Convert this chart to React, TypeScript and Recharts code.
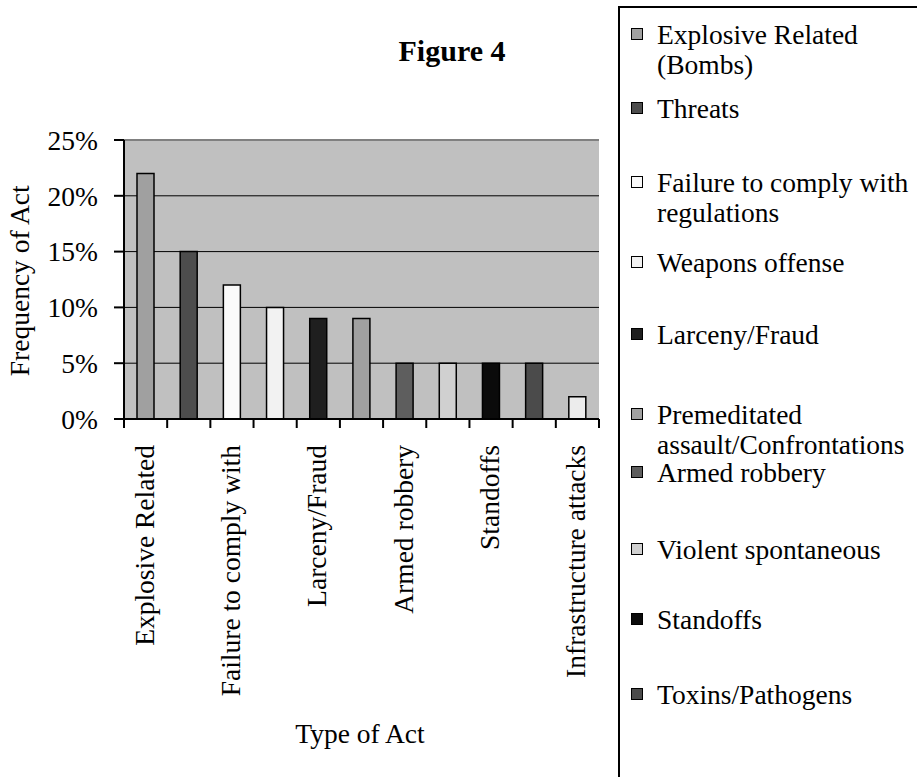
import React from 'react';
import {
  BarChart,
  Bar,
  Cell,
  XAxis,
  YAxis,
  CartesianGrid,
  ReferenceLine,
} from 'recharts';

// Legend names (line breaks as in the figure's legend box)
const legendLabels = [
  'Explosive Related\n(Bombs)',
  'Threats',
  'Failure to comply with\nregulations',
  'Weapons offense',
  'Larceny/Fraud',
  'Premeditated\nassault/Confrontations',
  'Armed robbery',
  'Violent spontaneous',
  'Standoffs',
  'Toxins/Pathogens',
  'Infrastructure attacks',
];

// Category labels as printed under the axis (only every second one shows)
const tickLabels = [
  'Explosive Related',
  'Threats',
  'Failure to comply with',
  'Weapons offense',
  'Larceny/Fraud',
  'Premeditated',
  'Armed robbery',
  'Violent spontaneous',
  'Standoffs',
  'Toxins/Pathogens',
  'Infrastructure attacks',
];

const frequencies = [22, 15, 12, 10, 9, 9, 5, 5, 5, 5, 2]; // percent

const barColors = [
  '#a0a0a0',
  '#4d4d4d',
  '#fafafa',
  '#f2f2f2',
  '#1f1f1f',
  '#a0a0a0',
  '#5e5e5e',
  '#d0d0d0',
  '#0b0b0b',
  '#4b4b4b',
  '#ececec',
];

const yTicks = [0, 5, 10, 15, 20, 25];

const data = legendLabels.map((label, i) => ({
  name: label.replace('\n', ' '),
  short: tickLabels[i],
  value: frequencies[i],
}));

const FONT = '"Liberation Serif", "Times New Roman", serif';
const FS = 27.5;

const W = 917;
const H = 777;
const PLOT_LEFT = 124;
const PLOT_TOP = 140;
const PLOT_RIGHT = 599;
const PLOT_BOTTOM = 419;
const BAND = (PLOT_RIGHT - PLOT_LEFT) / data.length;

// legend first-line centres; the last entry
// (Infrastructure attacks) falls below the visible part of the box
const legendY = [35, 109, 183, 263, 335, 415, 473, 550, 620, 695];

const XTick = (props: any) => {
  const { x, y, index } = props;
  const left = x - BAND / 2;
  return (
    <g>
      <line x1={left} x2={left} y1={y} y2={y + 9} stroke="#000" strokeWidth={2} />
      {index === data.length - 1 && (
        <line x1={x + BAND / 2} x2={x + BAND / 2} y1={y} y2={y + 9} stroke="#000" strokeWidth={2} />
      )}
      {index % 2 === 0 && (
        <text
          x={0}
          y={0}
          transform={`translate(${x + 8}, ${y + 26}) rotate(-90)`}
          textAnchor="end"
          fontFamily={FONT}
          fontSize={FS}
          fill="#000"
        >
          {tickLabels[index]}
        </text>
      )}
    </g>
  );
};

const Legend = () => (
  <div
    style={{
      position: 'absolute',
      left: 618,
      top: 6,
      width: 340,
      height: 820,
      border: '2px solid #000',
      boxSizing: 'border-box',
    }}
  >
    {legendY.map((cy, i) => (
      <div
        key={legendLabels[i]}
        style={{
          position: 'absolute',
          left: 0,
          top: cy - 15 - 8,
          display: 'flex',
          alignItems: 'flex-start',
        }}
      >
        <div
          style={{
            width: 12,
            height: 12,
            marginLeft: 11,
            marginTop: 8,
            background: barColors[i],
            border: '1.5px solid #000',
            boxSizing: 'border-box',
          }}
        />
        <div
          style={{
            marginLeft: 14,
            fontFamily: FONT,
            fontSize: FS,
            lineHeight: '30px',
            whiteSpace: 'pre-line',
            color: '#000',
          }}
        >
          {legendLabels[i]}
        </div>
      </div>
    ))}
  </div>
);

export default function App() {
  return (
    <div
      style={{
        position: 'absolute',
        left: 0,
        top: 0,
        width: W,
        height: H,
        overflow: 'hidden',
        background: '#fff',
      }}
    >
      <BarChart
        width={W}
        height={H}
        data={data}
        margin={{ top: PLOT_TOP, right: W - PLOT_RIGHT, bottom: 0, left: 0 }}
        barCategoryGap={0}
      >
        <CartesianGrid
          vertical={false}
          stroke="#000"
          strokeWidth={1}
          fill="#c0c0c0"
          fillOpacity={1}
        />
        <XAxis
          dataKey="name"
          interval={0}
          height={H - PLOT_BOTTOM}
          tickSize={0}
          tickMargin={0}
          tickLine={false}
          axisLine={{ stroke: '#000', strokeWidth: 2 }}
          tick={<XTick />}
        />
        <YAxis
          width={PLOT_LEFT}
          domain={[0, 25]}
          ticks={yTicks}
          tickFormatter={(v: number) => `${v}%`}
          tickSize={10}
          tickMargin={16}
          tickLine={{ stroke: '#000', strokeWidth: 2 }}
          axisLine={{ stroke: '#000', strokeWidth: 2 }}
          tick={{ fill: '#000', fontSize: FS, fontFamily: FONT }}
        />
        <YAxis
          yAxisId="frame"
          orientation="right"
          width={0}
          domain={[0, 25]}
          tick={false}
          tickLine={false}
          axisLine={{ stroke: '#808080', strokeWidth: 2 }}
        />
        <ReferenceLine y={25} stroke="#808080" strokeWidth={2} />
        <Bar
          dataKey="value"
          barSize={17}
          stroke="#000"
          strokeWidth={1.5}
          isAnimationActive={false}
        >
          {data.map((d, i) => (
            <Cell key={d.name} fill={barColors[i]} />
          ))}
        </Bar>
      </BarChart>

      <div
        style={{
          position: 'absolute',
          left: 352,
          top: 36,
          width: 200,
          textAlign: 'center',
          fontFamily: FONT,
          fontSize: 30,
          fontWeight: 'bold',
          lineHeight: '30px',
        }}
      >
        Figure 4
      </div>

      <div
        style={{
          position: 'absolute',
          left: 260,
          top: 720,
          width: 200,
          textAlign: 'center',
          fontFamily: FONT,
          fontSize: FS,
          lineHeight: `${FS}px`,
        }}
      >
        Type of Act
      </div>

      <div
        style={{
          position: 'absolute',
          left: 20 - 130,
          top: 281 - FS / 2,
          width: 260,
          textAlign: 'center',
          fontFamily: FONT,
          fontSize: FS,
          lineHeight: `${FS}px`,
          transform: 'rotate(-90deg)',
          transformOrigin: 'center center',
        }}
      >
        Frequency of Act
      </div>

      <Legend />
    </div>
  );
}
